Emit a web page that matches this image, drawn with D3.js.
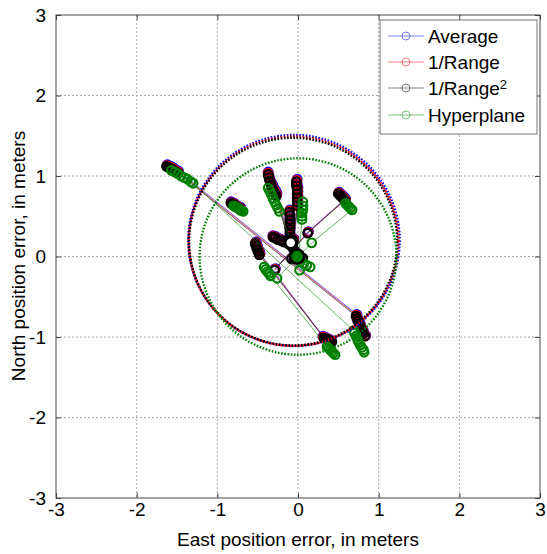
<!DOCTYPE html>
<html>
<head>
<meta charset="utf-8">
<script src="https://cdn.jsdelivr.net/npm/d3@7"></script>
<style>
  body { margin: 0; background: #fff; }
  svg { display: block; }
  text { font-family: "Liberation Sans", Arial, sans-serif; }
</style>
</head>
<body>
<svg width="547" height="554"></svg>
<script>
// position estimates, null breaks a run (like NaN in matlab)
var avgEast = [-1.62,-1.60,-1.58,-1.56,-1.54,-1.52,-1.50,-1.48, 0.73,0.74,0.75,0.77,0.78,0.79,0.81,0.82,0.84, null,
  -0.52,-0.51,-0.50,-0.49,-0.48,-0.47, 0.31,0.33,0.35,0.37,0.39,0.41, null,
  0.51,0.53,0.55,0.57,0.59, 0.13, -0.28, null,
  -0.01,-0.01,0.00,0.00,0.00,0.00,0.00, -0.05, null,
  -0.37,-0.36,-0.35,-0.33,-0.31,-0.29,-0.27,-0.26, -0.11, null,
  -0.31,-0.28,-0.25,-0.22,-0.18, -0.10,-0.10,-0.10,-0.10,-0.10,-0.10,-0.10, null,
  -0.83,-0.81,-0.79,-0.77,-0.75,-0.73,-0.71];
var avgNorth = [1.14,1.13,1.12,1.11,1.10,1.08,1.07,1.06, -0.72,-0.76,-0.79,-0.83,-0.86,-0.89,-0.92,-0.95,-0.98, null,
  0.18,0.15,0.12,0.09,0.07,0.04, -0.99,-1.00,-1.01,-1.02,-1.03,-1.04, null,
  0.80,0.78,0.76,0.74,0.72, 0.31, -0.15, null,
  0.96,0.91,0.86,0.81,0.76,0.71,0.66, 0.22, null,
  1.05,1.01,0.97,0.92,0.88,0.84,0.81,0.78, 0.22, null,
  0.26,0.25,0.23,0.22,0.20, 0.24,0.30,0.36,0.42,0.48,0.53,0.58, null,
  0.68,0.67,0.66,0.64,0.63,0.62,0.61];

var rngEast = [-1.625,-1.605,-1.585,-1.565,-1.545,-1.525,-1.505,-1.485, 0.725,0.735,0.745,0.765,0.775,0.785,0.805,0.815,0.835, null,
  -0.525,-0.515,-0.505,-0.495,-0.485,-0.475, 0.315,0.335,0.355,0.375,0.395,0.415, null,
  0.505,0.525,0.545,0.565,0.585, 0.125, -0.285, null,
  -0.015,-0.015,-0.005,-0.005,-0.005,-0.005,-0.005, -0.055, null,
  -0.37,-0.36,-0.35,-0.33,-0.315,-0.295,-0.275,-0.265, -0.115, null,
  -0.31,-0.28,-0.25,-0.22,-0.18, -0.105,-0.10,-0.10,-0.10,-0.10,-0.10,-0.105, null,
  -0.83,-0.81,-0.79,-0.77,-0.75,-0.73,-0.71];
var rngNorth = [1.13,1.12,1.11,1.10,1.09,1.07,1.06,1.05, -0.73,-0.765,-0.795,-0.835,-0.865,-0.895,-0.925,-0.955,-0.985, null,
  0.17,0.14,0.11,0.08,0.06,0.03, -1.00,-1.01,-1.02,-1.03,-1.04,-1.05, null,
  0.79,0.77,0.75,0.73,0.71, 0.30, -0.16, null,
  0.945,0.895,0.845,0.795,0.745,0.695,0.645, 0.21, null,
  1.035,0.995,0.955,0.905,0.865,0.825,0.795,0.765, 0.21, null,
  0.25,0.24,0.22,0.21,0.19, 0.23,0.29,0.35,0.41,0.47,0.52,0.565, null,
  0.67,0.66,0.65,0.63,0.62,0.61,0.60];

var rng2East = [-1.63,-1.61,-1.59,-1.57,-1.55,-1.53,-1.51,-1.49, 0.72,0.73,0.74,0.76,0.77,0.78,0.80,0.81,0.83, null,
  -0.53,-0.52,-0.51,-0.50,-0.49,-0.48, 0.32,0.34,0.36,0.38,0.40,0.42, null,
  0.50,0.52,0.54,0.56,0.58, 0.12, -0.29, null,
  -0.02,-0.02,-0.01,-0.01,-0.01,-0.01,-0.01, -0.06, null,
  -0.37,-0.36,-0.35,-0.33,-0.32,-0.30,-0.28,-0.27, -0.12, null,
  -0.31,-0.28,-0.25,-0.22,-0.18, -0.11,-0.10,-0.10,-0.10,-0.10,-0.10,-0.11, null,
  -0.83,-0.81,-0.79,-0.77,-0.75,-0.73,-0.71, null,
  -0.08,-0.06,-0.04,-0.02,0.00, null,
  -0.08,-0.05,-0.02, 0.03,0.06];
var rng2North = [1.12,1.11,1.10,1.09,1.08,1.06,1.05,1.04, -0.74,-0.77,-0.80,-0.84,-0.87,-0.90,-0.93,-0.96,-0.99, null,
  0.16,0.13,0.10,0.07,0.05,0.02, -1.01,-1.02,-1.03,-1.04,-1.05,-1.06, null,
  0.78,0.76,0.74,0.72,0.70, 0.29, -0.17, null,
  0.93,0.88,0.83,0.78,0.73,0.68,0.63, 0.20, null,
  1.02,0.98,0.94,0.89,0.85,0.81,0.78,0.75, 0.20, null,
  0.24,0.23,0.21,0.20,0.18, 0.22,0.28,0.34,0.40,0.46,0.51,0.55, null,
  0.66,0.65,0.64,0.62,0.61,0.60,0.59, null,
  0.13,0.10,0.07,0.04,0.01, null,
  -0.03,-0.03,-0.03, -0.02,-0.02];

var hypEast = [-1.57,-1.53,-1.49,-1.45,-1.41,-1.37,-1.33,-1.30, 0.69,0.70,0.72,0.74,0.75,0.77,0.79,0.81,0.82, null,
  -0.42,-0.40,-0.38,-0.36,-0.34, 0.36,0.38,0.40,0.42,0.44,0.46, null,
  0.59,0.61,0.63,0.65,0.67, 0.17, -0.26, null,
  0.06,0.06,0.06,0.05,0.05,0.05, 0.01, null,
  -0.37,-0.35,-0.33,-0.31,-0.29,-0.27,-0.25,-0.23, -0.01, null,
  -0.01,0.03,0.07,0.11,0.15, 0.02, null,
  -0.80,-0.78,-0.76,-0.74,-0.72,-0.70,-0.68];
var hypNorth = [1.07,1.05,1.03,1.00,0.98,0.96,0.93,0.91, -0.92,-0.95,-0.99,-1.03,-1.06,-1.10,-1.13,-1.16,-1.19, null,
  -0.13,-0.16,-0.19,-0.21,-0.24, -1.12,-1.14,-1.16,-1.18,-1.20,-1.22, null,
  0.66,0.64,0.62,0.60,0.58, 0.17, -0.27, null,
  0.68,0.63,0.58,0.54,0.50,0.46, 0.02, null,
  0.85,0.81,0.77,0.72,0.68,0.64,0.60,0.56, 0.01, null,
  -0.04,-0.06,-0.09,-0.11,-0.13, -0.17, null,
  0.63,0.62,0.61,0.60,0.58,0.57,0.56];

// error circles and mean markers
var circleEast = [-0.05, -0.055, -0.06, 0.0];
var circleNorth = [0.20, 0.19, 0.185, 0.0];
var circleRadius = [1.31, 1.30, 1.29, 1.22];
var meanEast = [-0.09, -0.01];
var meanNorth = [0.17, 0.0];

var seriesNames = ["Average", "1/Range", "1/Range2", "Hyperplane"];
var seriesColors = ["#0000ff", "#ff0000", "#000000", "#008000"];
var ticks = [-3, -2, -1, 0, 1, 2, 3];

var svg = d3.select("svg");
var x = d3.scaleLinear().domain([-3, 3]).range([56, 540]);
var y = d3.scaleLinear().domain([-3, 3]).range([498, 15]);

// grid
svg.append("g").selectAll("line").data(ticks.slice(1, -1)).enter().append("line")
  .attr("x1", function(d) { return x(d); }).attr("x2", function(d) { return x(d); })
  .attr("y1", 15).attr("y2", 498)
  .attr("stroke", "#aaa").attr("stroke-dasharray", "2,2");
svg.append("g").selectAll("line").data(ticks.slice(1, -1)).enter().append("line")
  .attr("y1", function(d) { return y(d); }).attr("y2", function(d) { return y(d); })
  .attr("x1", 56).attr("x2", 540)
  .attr("stroke", "#aaa").attr("stroke-dasharray", "2,2");

// axes, ticks pointing in like matlab
var fmt = function(d) { return d; };
var xb = svg.append("g").attr("transform", "translate(0,498)")
  .call(d3.axisBottom(x).tickValues(ticks).tickFormat(fmt).tickSize(-5).tickPadding(5));
var xt = svg.append("g").attr("transform", "translate(0,15)")
  .call(d3.axisTop(x).tickValues(ticks).tickFormat("").tickSize(-5));
var yl = svg.append("g").attr("transform", "translate(56,0)")
  .call(d3.axisLeft(y).tickValues(ticks).tickFormat(fmt).tickSize(-5).tickPadding(10));
var yr = svg.append("g").attr("transform", "translate(540,0)")
  .call(d3.axisRight(y).tickValues(ticks).tickFormat("").tickSize(-5));
[xb, xt, yl, yr].forEach(function(g) {
  g.select(".domain").remove();
  g.selectAll(".tick line").attr("stroke", "#444");
  g.selectAll("text").attr("font-size", 19).attr("fill", "#000")
    .style("font-family", "'Liberation Sans', Arial, sans-serif");
});

// data series
var line = d3.line()
  .defined(function(d) { return d[0] != null; })
  .x(function(d) { return x(d[0]); })
  .y(function(d) { return y(d[1]); });

var eastData = [avgEast, rngEast, rng2East, hypEast];
var northData = [avgNorth, rngNorth, rng2North, hypNorth];

eastData.forEach(function(east, i) {
  var pts = east.map(function(e, j) { return [e, northData[i][j]]; });
  svg.append("path").datum(pts)
    .attr("d", line)
    .attr("fill", "none")
    .attr("stroke", seriesColors[i])
    .attr("stroke-width", 0.6);
  svg.append("g").selectAll("circle")
    .data(pts.filter(function(d) { return d[0] != null; }))
    .enter().append("circle")
    .attr("cx", function(d) { return x(d[0]); })
    .attr("cy", function(d) { return y(d[1]); })
    .attr("r", 4.3)
    .attr("fill", "none")
    .attr("stroke", seriesColors[i])
    .attr("stroke-width", 2.2);
});

// error circles, dotted
circleRadius.forEach(function(r, i) {
  var cx = x(circleEast[i]), cy = y(circleNorth[i]);
  svg.append("ellipse")
    .attr("cx", cx).attr("cy", cy)
    .attr("rx", x(r) - x(0)).attr("ry", y(0) - y(r))
    .attr("fill", "none")
    .attr("stroke", seriesColors[i])
    .attr("stroke-width", 2.4)
    .attr("stroke-dasharray", "1.6,1.6");
});

// mean markers
svg.append("circle").attr("cx", x(meanEast[0])).attr("cy", y(meanNorth[0])).attr("r", 6)
  .attr("fill", "#fff").attr("stroke", "#000").attr("stroke-width", 3.5);
svg.append("circle").attr("cx", x(meanEast[1])).attr("cy", y(meanNorth[1])).attr("r", 7)
  .attr("fill", "#008000").attr("stroke", "#000").attr("stroke-width", 2.5);

// box
svg.append("rect").attr("x", 56).attr("y", 15).attr("width", 484).attr("height", 483)
  .attr("fill", "none").attr("stroke", "#444");

// legend
var lg = svg.append("g");
lg.append("rect").attr("x", 380).attr("y", 20).attr("width", 157).attr("height", 114)
  .attr("fill", "#fff").attr("stroke", "#777");
var rowY = [36, 62, 88, 115];
seriesNames.forEach(function(name, i) {
  lg.append("line").attr("x1", 388).attr("x2", 424).attr("y1", rowY[i]).attr("y2", rowY[i])
    .attr("stroke", seriesColors[i]).attr("stroke-opacity", 0.5);
  lg.append("circle").attr("cx", 406).attr("cy", rowY[i]).attr("r", 4)
    .attr("fill", "none").attr("stroke", seriesColors[i]).attr("stroke-opacity", 0.5);
  var t = lg.append("text").attr("x", 428).attr("y", rowY[i]).attr("dy", "0.36em")
    .attr("font-size", 19);
  if (name == "1/Range2") {
    t.append("tspan").text("1/Range");
    t.append("tspan").attr("dy", "-0.45em").attr("font-size", 13).text("2");
  } else {
    t.text(name);
  }
});

// axis titles
svg.append("text").attr("x", 298).attr("y", 546).attr("text-anchor", "middle")
  .attr("font-size", 19).text("East position error, in meters");
svg.append("text").attr("transform", "translate(25,256) rotate(-90)")
  .attr("text-anchor", "middle").attr("font-size", 19)
  .text("North position error, in meters");
</script>
</body>
</html>
